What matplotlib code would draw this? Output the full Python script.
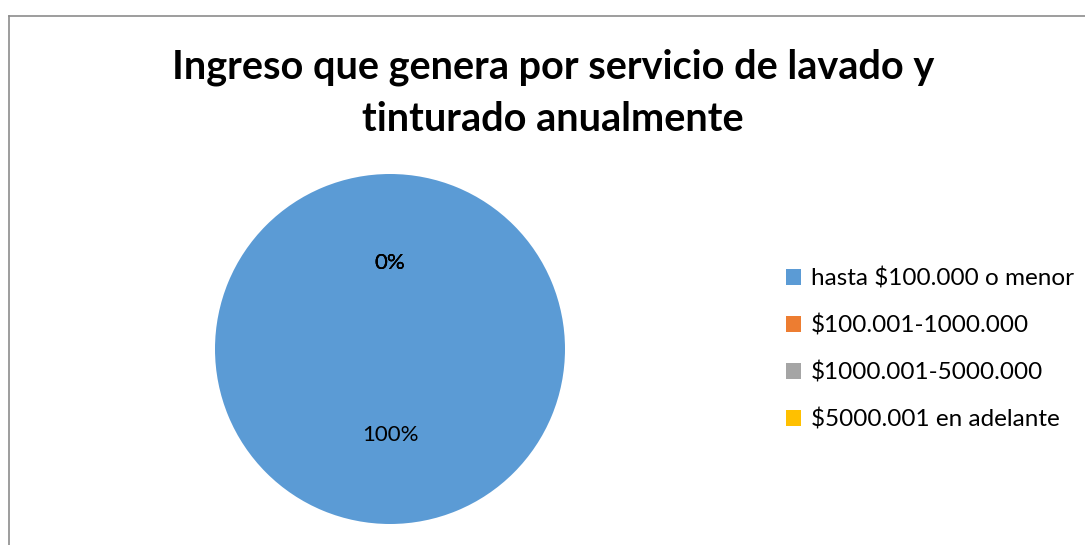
import matplotlib.pyplot as plt
from matplotlib.lines import Line2D

# datos del grafico
categorias = ["hasta $100.000 o menor", "$100.001-1000.000",
              "$1000.001-5000.000", "$5000.001 en adelante"]
valores = [100, 0, 0, 0]
colores = ["#5B9BD5", "#ED7D31", "#A5A5A5", "#FFC000"]
titulo = "Ingreso que genera por servicio de lavado y\ntinturado anualmente"

plt.rcParams['font.family'] = ['Lato', 'DejaVu Sans']

fig = plt.figure(figsize=(10.85, 5.45), dpi=100)

# eje del pastel: centro ~ (390, 349) px, radio ~175 px
ax = fig.add_axes([215 / 1085, 21 / 545, 350 / 1085, 350 / 545])
cunas, textos, autotextos = ax.pie(valores, colors=colores, startangle=90,
                                   counterclock=False, autopct='%1.0f%%',
                                   pctdistance=0.49, radius=1,
                                   wedgeprops=dict(linewidth=0),
                                   textprops=dict(fontsize=16, color='black'))
ax.set_xlim(-1, 1)
ax.set_ylim(-1, 1)
ax.set_aspect('equal')
ax.axis('off')

# titulo
fig.text(553 / 1085, 1 - 93 / 545, titulo, ha='center', va='center',
         fontsize=28.5, fontweight='bold', linespacing=1.5)

# leyenda
fig.legend(cunas, categorias, loc='center left',
           bbox_to_anchor=(764 / 1085, 1 - 349 / 545), frameon=False,
           fontsize=17.5, handlelength=0.62, handleheight=0.62,
           handletextpad=0.4, labelspacing=1.02)

# borde del area del grafico
fig.add_artist(Line2D([9 / 1085, 1], [1 - 16 / 545, 1 - 16 / 545],
                      color='#8c8c8c', linewidth=1.2))
fig.add_artist(Line2D([9 / 1085, 9 / 1085], [0, 1 - 16 / 545],
                      color='#8c8c8c', linewidth=1.2))

fig.savefig('out.png', dpi=100)
